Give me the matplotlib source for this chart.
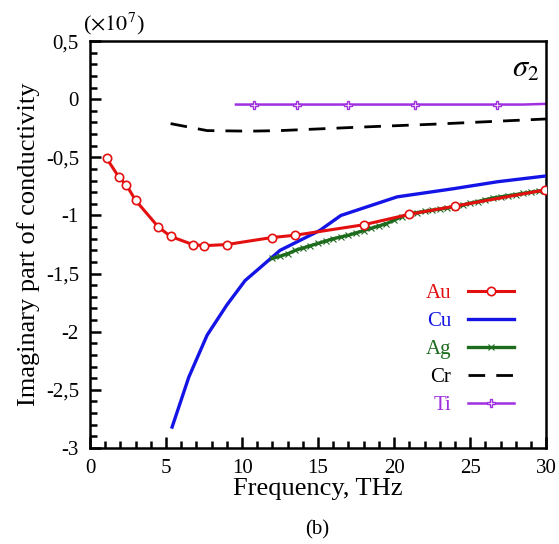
import matplotlib.pyplot as plt
from matplotlib.ticker import MultipleLocator, FuncFormatter

plt.rcParams['font.family'] = ['Liberation Serif', 'DejaVu Serif']
plt.rcParams['mathtext.fontset'] = 'stix'

# Au (red, open circles)
au_f = [1.1, 1.9, 2.4, 3.0, 4.5, 5.3, 6.75, 7.5, 9.0, 11.95, 13.5, 18.0, 21.0, 24.0, 29.95]
au_s = [-0.51, -0.67, -0.74, -0.87, -1.10, -1.18, -1.25, -1.26, -1.25, -1.19, -1.17, -1.08, -0.99, -0.92, -0.78]

# Cu (blue)
cu_f = [5.4, 6.5, 7.7, 9.0, 10.2, 11.0, 12.5, 15.1, 16.5, 20.2, 23.9, 26.8, 30.0]
cu_s = [-2.82, -2.39, -2.03, -1.77, -1.56, -1.47, -1.30, -1.13, -1.00, -0.84, -0.77, -0.71, -0.66]

# Ag (green, x markers)
ag_f = [12.0, 12.5, 13.0, 13.5, 14.0, 14.5, 15.0, 15.5, 16.0, 16.5, 17.0, 17.5, 18.0,
        18.5, 19.0, 19.5, 20.0, 20.5, 21.0, 21.5, 22.0, 22.5, 23.0, 23.5, 24.0, 24.5,
        25.0, 25.5, 26.0, 26.5, 27.0, 27.5, 28.0, 28.5, 29.0, 29.5, 30.0]
ag_s = [-1.37, -1.35, -1.33, -1.30, -1.28, -1.26, -1.24, -1.22, -1.20, -1.185, -1.17, -1.15, -1.13,
        -1.11, -1.09, -1.07, -1.04, -1.01, -0.985, -0.975, -0.965, -0.955, -0.945, -0.935, -0.925, -0.91,
        -0.895, -0.88, -0.865, -0.85, -0.84, -0.83, -0.82, -0.81, -0.80, -0.79, -0.78]

# Cr (black dashed)
cr_f = [5.3, 7.7, 10.5, 12.5, 17.8, 22.6, 30.0]
cr_s = [-0.21, -0.27, -0.275, -0.27, -0.24, -0.215, -0.17]

# Ti (purple, plus markers)
ti_f = [9.6, 10.8, 13.6, 17.0, 21.4, 26.8, 28.5, 30.0]
ti_s = [-0.046, -0.046, -0.046, -0.046, -0.046, -0.046, -0.046, -0.040]
ti_mark = [1, 2, 3, 4, 5]

fig = plt.figure(figsize=(5.59, 5.44), dpi=100)
ax = fig.add_axes([0.161, 0.1765, 0.816, 0.748])

ax.plot(au_f, au_s, color='#e41010', lw=2.2, marker='o', ms=6, mfc='white', mec='#e41010', mew=1.2, label='Au', zorder=4)
ax.plot(cu_f, cu_s, color='#1414e6', lw=2.4, label='Cu', zorder=3)
ax.plot(ag_f, ag_s, color='#1d6b1d', lw=2.4, marker='x', ms=4, mew=0.8, label='Ag', zorder=3.5)
ax.plot(cr_f, cr_s, color='black', lw=2.0, ls=(0, (6, 4)), label='Cr')
ax.plot(ti_f, ti_s, color='#a02fe0', lw=1.8, marker='P', ms=6, mfc='white', mec='#a02fe0', mew=1.0,
        markevery=ti_mark, label='Ti')

ax.set_xlim(0, 30)
ax.set_ylim(-3, 0.5)
ax.xaxis.set_major_locator(MultipleLocator(5))
ax.xaxis.set_minor_locator(MultipleLocator(1))
ax.yaxis.set_major_locator(MultipleLocator(0.5))
ax.yaxis.set_minor_locator(MultipleLocator(0.1))
ax.yaxis.set_major_formatter(FuncFormatter(lambda v, p: ('%g' % v).replace('.', ',')))
ax.tick_params(which='both', direction='in', top=False, right=False, width=1.8, labelsize=15)
ax.tick_params(which='major', length=8, pad=8)
ax.tick_params(which='minor', length=5)
for s in ax.spines.values():
    s.set_linewidth(1.8)

ax.set_xlabel('Frequency, THz', fontsize=19, labelpad=0)
ax.set_ylabel('Imaginary part of conductivity', fontsize=19, labelpad=4)

fig.text(0.204, 0.956, r'($\times 10^7$)', fontsize=16, ha='center', va='center')
ax.text(0.985, 0.93, r'$\sigma_2$', transform=ax.transAxes, fontsize=22, ha='right', va='center')
fig.text(0.567, 0.026, '(b)', fontsize=15, ha='center', va='center')

leg = ax.legend(loc='lower right', bbox_to_anchor=(0.97, 0.035), frameon=False, markerfirst=False,
                labelcolor='linecolor', fontsize=15, handlelength=2.2, handletextpad=0.8, labelspacing=0.4)
for t in leg.get_texts():
    t.set_ha('right')

fig.savefig('out.png', dpi=100)
